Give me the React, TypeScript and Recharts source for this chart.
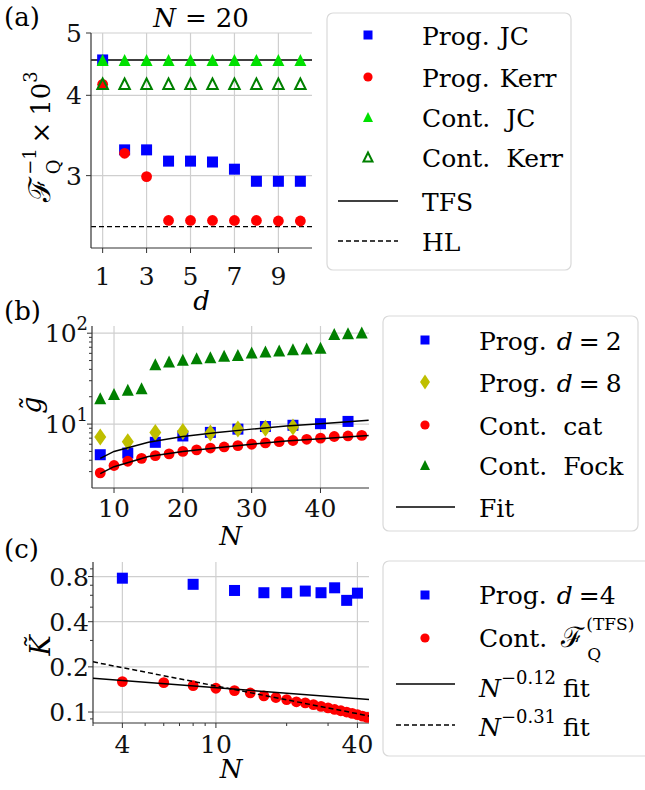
import React from 'react';
import { ComposedChart, Scatter, XAxis, YAxis, CartesianGrid, ReferenceLine, Label } from 'recharts';

const SERIF = "'DejaVu Serif', 'Liberation Serif', serif";
const FS = 25;
const SUB = 18;
const GRID = '#cfcfcf';
const SPINE = '#333';
const BLUE = '#0000ff';
const RED = '#ff0000';
const LIME = '#00e000';
const GREEN = '#008000';
const OLIVE = '#bfbf00';

// ---- panel (a): N = 20, versus d
const dValues = [1, 2, 3, 4, 5, 6, 7, 8, 9, 10];
const progJC = [4.54, 3.29, 3.29, 3.16, 3.16, 3.15, 3.07, 2.94, 2.94, 2.94];
const progKerr = [4.16, 3.25, 2.99, 2.555, 2.555, 2.555, 2.555, 2.555, 2.55, 2.55];
const contJC = [4.54, 4.54, 4.54, 4.54, 4.54, 4.54, 4.54, 4.54, 4.54, 4.54];
const contKerr = [4.17, 4.17, 4.17, 4.17, 4.17, 4.17, 4.17, 4.17, 4.17, 4.17];
const tfsLevel = 4.54;
const hlLevel = 2.5;
const aXTicks = [1, 3, 5, 7, 9];
const aYTicks = [3, 4, 5];

// ---- panel (b): g~ versus N
const nProgD2 = [8, 12, 16, 20, 24, 28, 32, 36, 40, 44];
const progD2 = [4.6, 4.8, 6.3, 7.4, 8.1, 8.8, 9.4, 9.7, 10.1, 10.7];
const nProgD8 = [8, 12, 16, 20, 24, 28, 32, 36];
const progD8 = [7.2, 6.4, 8.1, 8.3, 8.0, 8.8, 9.0, 9.3];
const nCont = [8, 10, 12, 14, 16, 18, 20, 22, 24, 26, 28, 30, 32, 34, 36, 38, 40, 42, 44, 46];
const contCat = [2.9, 3.5, 3.9, 4.2, 4.5, 4.7, 5.0, 5.2, 5.45, 5.6, 5.8, 6.0, 6.2, 6.4, 6.6, 6.8, 7.0, 7.3, 7.4, 7.5];
const contFock = [19.3, 21.4, 23.8, 24.8, 45.6, 48.8, 50.9, 53, 54.5, 56.3, 57.6, 61.2, 62.8, 64.4, 66.7, 68, 69, 98, 100, 101.5];
const nFitB = [8, 10, 15, 20, 25, 30, 35, 40, 47];
const fitUpper = [4.2, 5.0, 6.3, 7.3, 8.1, 8.8, 9.5, 10.1, 11.0];
const fitLower = [2.85, 3.4, 4.4, 5.0, 5.5, 6.0, 6.5, 6.9, 7.5];
const bXTicks = [10, 20, 30, 40];
const bYMajor = [10, 100];
const bYMinor = [3, 4, 5, 6, 7, 8, 9, 20, 30, 40, 50, 60, 70, 80, 90];

// ---- panel (c): K~ versus N
const nProgD4 = [4, 8, 12, 16, 20, 24, 28, 32, 36, 40];
const progD4 = [0.78, 0.71, 0.646, 0.624, 0.624, 0.64, 0.624, 0.673, 0.555, 0.62];
const nContTFS = [4, 6, 8, 10, 12, 14, 16, 18, 20, 22, 24, 26, 28, 30, 32, 34, 36, 38, 40, 42, 44];
const contTFS = [0.1595, 0.157, 0.15, 0.144, 0.139, 0.134, 0.128, 0.125, 0.121, 0.117, 0.115, 0.112, 0.109, 0.1065, 0.104, 0.102, 0.1, 0.098, 0.096, 0.094, 0.092];
const nFitC = [3, 45];
const fit012 = [0.168, 0.121];
const fit031 = [0.216, 0.094];
const cXMajor = [4, 10, 40];
const cXMinor = [3, 5, 6, 7, 8, 9, 20, 30];
const cYMajor = [0.1, 0.2, 0.4, 0.8];
const cYMinor = [0.09, 0.3, 0.5, 0.6, 0.7, 0.9];

const pts = (xs: number[], ys: number[]) => xs.map((x, i) => ({ x, y: ys[i] }));

// markers
const Square = ({ cx, cy, fill = BLUE, s = 11 }: any) => (
  <rect x={cx - s / 2} y={cy - s / 2} width={s} height={s} fill={fill} />
);
const Dot = ({ cx, cy, fill = RED, r = 5.4 }: any) => <circle cx={cx} cy={cy} r={r} fill={fill} />;
const Tri = ({ cx, cy, fill, stroke = 'none', s = 12, sw = 0 }: any) => (
  <polygon
    points={`${cx},${cy - s / 2} ${cx - s / 2},${cy + s / 2} ${cx + s / 2},${cy + s / 2}`}
    fill={fill}
    stroke={stroke}
    strokeWidth={sw}
  />
);
const Diamond = ({ cx, cy, fill = OLIVE, w = 12, h = 17 }: any) => (
  <polygon points={`${cx},${cy - h / 2} ${cx + w / 2},${cy} ${cx},${cy + h / 2} ${cx - w / 2},${cy}`} fill={fill} />
);
const NoMark = () => <g />;

// ticks (tickSize/tickMargin are 0 so x,y sit on the axis line)
const XTick = ({ x, y, payload, majors, labels, base }: any) => {
  const i = majors.indexOf(payload.value);
  return (
    <g>
      <line x1={x} x2={x} y1={y} y2={y + (i >= 0 ? 5 : 3)} stroke={SPINE} strokeWidth={1} />
      {i >= 0 && (
        <text x={x} y={y + base} textAnchor="middle" fontSize={FS} style={{ fontFamily: SERIF }} fill="#111">
          {labels[i]}
        </text>
      )}
    </g>
  );
};
const YTick = ({ x, y, payload, majors, labels, gap }: any) => {
  const i = majors.indexOf(payload.value);
  return (
    <g>
      <line x1={x} x2={x - (i >= 0 ? 5 : 3)} y1={y} y2={y} stroke={SPINE} strokeWidth={1} />
      {i >= 0 && (
        <text x={x - gap} y={y + 9} textAnchor="end" fontSize={FS} style={{ fontFamily: SERIF }} fill="#111">
          {labels[i]}
        </text>
      )}
    </g>
  );
};

const axisLine = { stroke: SPINE, strokeWidth: 1.2 };

const Frame = () => [
  <XAxis key="ft" xAxisId="top" orientation="top" type="number" domain={[0, 1]} height={0} tick={false} tickLine={false} axisLine={axisLine} />,
  <YAxis key="fr" yAxisId="right" orientation="right" type="number" domain={[0, 1]} width={0} tick={false} tickLine={false} axisLine={axisLine} />,
];

const PanelA = () => (
  <ComposedChart width={645} height={320} margin={{ top: 33, right: 333, bottom: 12, left: 0 }}>
    <CartesianGrid stroke={GRID} strokeWidth={1.2} verticalValues={aXTicks} horizontalValues={aYTicks} />
    <XAxis
      dataKey="x" type="number" domain={[0.47, 10.53]} allowDataOverflow ticks={aXTicks} interval={0}
      tickSize={0} tickMargin={0} tickLine={false} axisLine={axisLine} height={60}
      tick={(p: any) => <XTick {...p} majors={aXTicks} labels={aXTicks.map(String)} base={37} />}
    >
      <Label content={({ viewBox }: any) => (
        <text x={viewBox.x + viewBox.width / 2} y={viewBox.y + 62} textAnchor="middle" fontSize={FS + 1} style={{ fontFamily: SERIF }} fontStyle="italic">d</text>
      )} />
    </XAxis>
    <YAxis
      dataKey="y" type="number" scale="log" domain={[2.315, 5.0]} allowDataOverflow ticks={aYTicks} interval={0}
      tickSize={0} tickMargin={0} tickLine={false} axisLine={axisLine} width={91}
      tick={(p: any) => <YTick {...p} majors={aYTicks} labels={aYTicks.map(String)} gap={9} />}
    >
      <Label content={({ viewBox }: any) => (
        <text transform={`translate(${viewBox.x + 50},${viewBox.y + viewBox.height / 2 - 4}) rotate(-90)`} textAnchor="middle" fontSize={FS + 1} style={{ fontFamily: SERIF }}>
          <tspan fontSize={30}>ℱ</tspan>
          <tspan fontSize={SUB} dx={2} dy={-14}>−1</tspan>
          <tspan fontSize={SUB} dx={-26} dy={24}>Q</tspan>
          <tspan dx={16} dy={-10}>×</tspan>
          <tspan dx={6}>10</tspan>
          <tspan fontSize={SUB} dy={-13}>3</tspan>
        </text>
      )} />
    </YAxis>
    {Frame()}
    <Scatter data={pts(dValues, progJC)} shape={(p: any) => <Square {...p} s={11} />} isAnimationActive={false} />
    <Scatter data={pts(dValues, progKerr)} shape={(p: any) => <Dot {...p} r={5.4} />} isAnimationActive={false} />
    <Scatter data={pts(dValues, contJC)} shape={(p: any) => <Tri {...p} fill={LIME} s={12} />} isAnimationActive={false} />
    <Scatter data={pts(dValues, contKerr)} shape={(p: any) => <Tri {...p} fill="none" stroke={GREEN} sw={2} s={10.5} />} isAnimationActive={false} />
    <ReferenceLine y={tfsLevel} stroke="#000" strokeWidth={1.5} />
    <ReferenceLine y={hlLevel} stroke="#000" strokeWidth={1.3} strokeDasharray="5 3" />
  </ComposedChart>
);

const PanelB = () => (
  <ComposedChart width={645} height={280} margin={{ top: 46, right: 276, bottom: 12, left: 0 }}>
    <CartesianGrid stroke={GRID} strokeWidth={1.2} verticalValues={bXTicks} horizontalValues={bYMajor} />
    <XAxis
      dataKey="x" type="number" domain={[6.8, 47.05]} allowDataOverflow ticks={bXTicks} interval={0}
      tickSize={0} tickMargin={0} tickLine={false} axisLine={axisLine} height={60}
      tick={(p: any) => <XTick {...p} majors={bXTicks} labels={bXTicks.map(String)} base={29} />}
    >
      <Label content={({ viewBox }: any) => (
        <text x={viewBox.x + viewBox.width / 2} y={viewBox.y + 57} textAnchor="middle" fontSize={FS + 1} style={{ fontFamily: SERIF }} fontStyle="italic">N</text>
      )} />
    </XAxis>
    <YAxis
      dataKey="y" type="number" scale="log" domain={[1.98, 120]} allowDataOverflow ticks={[...bYMajor, ...bYMinor]} interval={0}
      tickSize={0} tickMargin={0} tickLine={false} axisLine={axisLine} width={92}
      tick={(p: any) => (
        <YTick {...p} majors={bYMajor} gap={4}
          labels={['1', '2'].map((e) => <>10<tspan fontSize={SUB} dy={-12}>{e}</tspan></>)} />
      )}
    >
      <Label content={({ viewBox }: any) => (
        <text transform={`translate(${viewBox.x + 41},${viewBox.y + viewBox.height / 2 - 2}) rotate(-90)`} textAnchor="middle" fontSize={FS + 2} style={{ fontFamily: SERIF }} fontStyle="italic">
          {'g\u0303'}
        </text>
      )} />
    </YAxis>
    {Frame()}
    <Scatter data={pts(nProgD2, progD2)} shape={(p: any) => <Square {...p} s={11} />} isAnimationActive={false} />
    <Scatter data={pts(nProgD8, progD8)} shape={(p: any) => <Diamond {...p} />} isAnimationActive={false} />
    <Scatter data={pts(nCont, contCat)} shape={(p: any) => <Dot {...p} r={5.4} />} isAnimationActive={false} />
    <Scatter data={pts(nCont, contFock)} shape={(p: any) => <Tri {...p} fill={GREEN} s={12} />} isAnimationActive={false} />
    <Scatter data={pts(nFitB, fitUpper)} line={{ stroke: '#000', strokeWidth: 1.5 }} shape={NoMark} isAnimationActive={false} />
    <Scatter data={pts(nFitB, fitLower)} line={{ stroke: '#000', strokeWidth: 1.5 }} shape={NoMark} isAnimationActive={false} />
  </ComposedChart>
);

const PanelC = () => (
  <ComposedChart width={645} height={260} margin={{ top: 32, right: 276, bottom: 12, left: 0 }}>
    <CartesianGrid stroke={GRID} strokeWidth={1.2} verticalValues={cXMajor} horizontalValues={cYMajor} />
    <XAxis
      dataKey="x" type="number" scale="log" domain={[3.0, 44.8]} allowDataOverflow ticks={[...cXMajor, ...cXMinor]} interval={0}
      tickSize={0} tickMargin={0} tickLine={false} axisLine={axisLine} height={55}
      tick={(p: any) => <XTick {...p} majors={cXMajor} labels={cXMajor.map(String)} base={30} />}
    >
      <Label content={({ viewBox }: any) => (
        <text x={viewBox.x + viewBox.width / 2} y={viewBox.y + 55} textAnchor="middle" fontSize={FS + 1} style={{ fontFamily: SERIF }} fontStyle="italic">N</text>
      )} />
    </XAxis>
    <YAxis
      dataKey="y" type="number" scale="log" domain={[0.0845, 1.0]} allowDataOverflow ticks={[...cYMajor, ...cYMinor]} interval={0}
      tickSize={0} tickMargin={0} tickLine={false} axisLine={axisLine} width={93}
      tick={(p: any) => <YTick {...p} majors={cYMajor} labels={cYMajor.map(String)} gap={4} />}
    >
      <Label content={({ viewBox }: any) => (
        <text transform={`translate(${viewBox.x + 50},${viewBox.y + viewBox.height / 2 + 3}) rotate(-90)`} textAnchor="middle" fontSize={FS + 2} style={{ fontFamily: SERIF }} fontStyle="italic">
          {'K\u0303'}
        </text>
      )} />
    </YAxis>
    {Frame()}
    <Scatter data={pts(nProgD4, progD4)} shape={(p: any) => <Square {...p} s={11} />} isAnimationActive={false} />
    <Scatter data={pts(nContTFS, contTFS)} shape={(p: any) => <Dot {...p} r={5.4} />} isAnimationActive={false} />
    <Scatter data={pts(nFitC, fit012)} line={{ stroke: '#000', strokeWidth: 1.5 }} shape={NoMark} isAnimationActive={false} />
    <Scatter data={pts(nFitC, fit031)} line={{ stroke: '#000', strokeWidth: 1.5, strokeDasharray: '5 3' }} shape={NoMark} isAnimationActive={false} />
  </ComposedChart>
);

const T = ({ style, ...rest }: any) => <text fontSize={FS} fill="#000" style={{ fontFamily: SERIF, ...style }} {...rest} />;

const Overlay = () => (
  <svg width={645} height={790} style={{ position: 'absolute', left: 0, top: 0, pointerEvents: 'none' }}>
    {/* panel tags and title */}
    <T x={4} y={26} fontSize={FS + 1}>(a)</T>
    <T x={4} y={320} fontSize={FS + 1}>(b)</T>
    <T x={4} y={558} fontSize={FS + 1}>(c)</T>
    <T x={201} y={27} textAnchor="middle" fontSize={FS + 1}>
      <tspan fontStyle="italic">N</tspan>
      <tspan dx={9}>=</tspan>
      <tspan dx={9}>20</tspan>
    </T>

    {/* legend (a) */}
    <rect x={327} y={13} width={244} height={257} rx={6} fill="#fff" stroke="#d9d9d9" strokeWidth={1.2} />
    <Square cx={368} cy={35} s={9} />
    <T x={422} y={45}>Prog.<tspan dx={10}>JC</tspan></T>
    <Dot cx={368} cy={77} r={4.6} />
    <T x={422} y={87}>Prog.<tspan dx={10}>Kerr</tspan></T>
    <Tri cx={368} cy={117} s={10} fill={LIME} />
    <T x={422} y={127}>Cont.<tspan dx={16}>JC</tspan></T>
    <Tri cx={368} cy={157} s={9} fill="none" stroke={GREEN} sw={2} />
    <T x={422} y={167}>Cont.<tspan dx={16}>Kerr</tspan></T>
    <line x1={338} x2={398} y1={201} y2={201} stroke="#000" strokeWidth={1.5} />
    <T x={422} y={211}>TFS</T>
    <line x1={338} x2={398} y1={241} y2={241} stroke="#000" strokeWidth={1.3} strokeDasharray="5 3" />
    <T x={422} y={251}>HL</T>

    {/* legend (b) */}
    <rect x={383} y={316} width={255} height={215} rx={6} fill="#fff" stroke="#d9d9d9" strokeWidth={1.2} />
    <Square cx={425} cy={340} s={9} />
    <T x={479} y={350}>Prog.<tspan dx={10} fontStyle="italic">d</tspan><tspan dx={6}>=</tspan><tspan dx={6}>2</tspan></T>
    <Diamond cx={425} cy={382} w={10} h={15} />
    <T x={479} y={392}>Prog.<tspan dx={10} fontStyle="italic">d</tspan><tspan dx={6}>=</tspan><tspan dx={6}>8</tspan></T>
    <Dot cx={425} cy={425} r={4.6} />
    <T x={479} y={435}>Cont.<tspan dx={16}>cat</tspan></T>
    <Tri cx={425} cy={465} s={10} fill={GREEN} />
    <T x={479} y={475}>Cont.<tspan dx={16}>Fock</tspan></T>
    <line x1={396} x2={455} y1={507} y2={507} stroke="#000" strokeWidth={1.5} />
    <T x={479} y={517}>Fit</T>

    {/* legend (c) */}
    <rect x={383} y={561} width={270} height={195} rx={6} fill="#fff" stroke="#d9d9d9" strokeWidth={1.2} />
    <Square cx={425} cy={595} s={9} />
    <T x={479} y={604}>Prog.<tspan dx={10} fontStyle="italic">d</tspan><tspan dx={6}>=4</tspan></T>
    <Dot cx={425} cy={638} r={4.6} />
    <T x={479} y={647}>Cont.<tspan dx={14} fontSize={28}>ℱ</tspan>
      <tspan fontSize={SUB - 1} dx={2} dy={-17}>(TFS)</tspan>
      <tspan fontSize={SUB - 1} dx={-47} dy={30}>Q</tspan>
    </T>
    <line x1={396} x2={455} y1={684} y2={684} stroke="#000" strokeWidth={1.5} />
    <T x={479} y={697}><tspan fontStyle="italic">N</tspan><tspan fontSize={SUB} dy={-13}>−0.12</tspan><tspan dx={7} dy={13}>fit</tspan></T>
    <line x1={396} x2={455} y1={725} y2={725} stroke="#000" strokeWidth={1.3} strokeDasharray="5 3" />
    <T x={479} y={736}><tspan fontStyle="italic">N</tspan><tspan fontSize={SUB} dy={-13}>−0.31</tspan><tspan dx={7} dy={13}>fit</tspan></T>
  </svg>
);

export default function App() {
  return (
    <div style={{ position: 'absolute', left: 0, top: 0, width: 645, height: 790, background: '#fff', overflow: 'hidden', fontFamily: SERIF }}>
      <div style={{ position: 'absolute', left: 0, top: 0 }}><PanelA /></div>
      <div style={{ position: 'absolute', left: 0, top: 280 }}><PanelB /></div>
      <div style={{ position: 'absolute', left: 0, top: 530 }}><PanelC /></div>
      <Overlay />
    </div>
  );
}
